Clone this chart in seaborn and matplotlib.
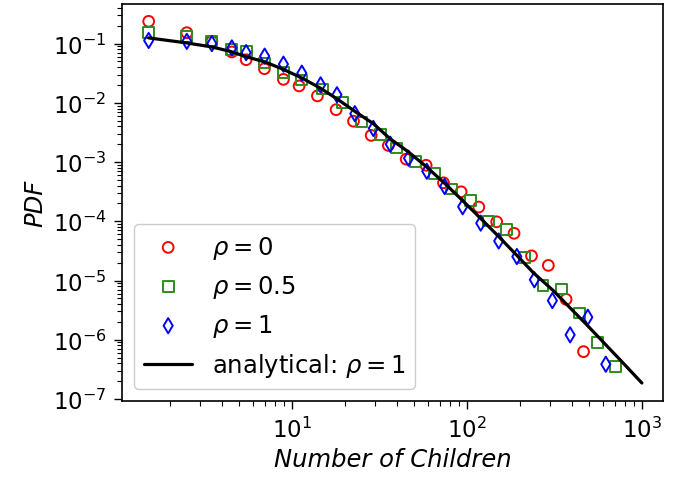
import numpy as np
import matplotlib
matplotlib.use("Agg")
import matplotlib.pyplot as plt
import seaborn as sns

sns.set_style("ticks")
plt.rcParams.update({
    "font.family": ["DejaVu Sans"],
    "font.size": 17.5,
    "axes.edgecolor": "black",
    "axes.linewidth": 1.2,
    "text.color": "black",
    "axes.labelcolor": "black",
    "xtick.color": "black",
    "ytick.color": "black",
    "xtick.labelsize": 16.5,
    "ytick.labelsize": 16.5,
    "xtick.major.size": 6,
    "ytick.major.size": 6,
    "xtick.minor.size": 3.5,
    "ytick.minor.size": 3.5,
    "xtick.major.width": 1,
    "ytick.major.width": 1,
    "xtick.minor.width": 0.8,
    "ytick.minor.width": 0.8,
    "xtick.major.pad": 5,
    "ytick.major.pad": 5,
    "mathtext.fontset": "dejavusans",
})

# rho = 0 (red circles)
x_rho0 = [1.52, 2.51, 3.49, 4.54, 5.48, 6.97, 8.95, 11.0, 14.0, 17.9, 22.5, 28.4,
          35.6, 45.0, 58.5, 73.5, 92.7, 117, 148, 186, 234, 292, 369, 464]
y_rho0 = [0.238, 0.153, 0.109, 0.0723, 0.0535, 0.0377, 0.0249, 0.0193, 0.0131,
          0.00766, 0.0049, 0.00282, 0.00191, 0.00112, 0.000883, 0.000447,
          0.000315, 0.000174, 9.8e-5, 6.27e-5, 2.61e-5, 1.80e-5, 4.81e-6, 6.3e-7]

# rho = 0.5 (green squares)
x_rho05 = [1.52, 2.51, 3.49, 4.54, 5.48, 6.97, 8.95, 11.4, 15.0, 19.5, 25.1, 32.0,
           39.8, 51.0, 65.0, 82.0, 105, 133, 169, 214, 272, 346, 440, 557, 710]
y_rho05 = [0.152, 0.133, 0.111, 0.0791, 0.0752, 0.0471, 0.0327, 0.0242, 0.0171,
           0.0101, 0.00474, 0.0029, 0.00173, 0.00102, 0.000635, 0.00035,
           0.000224, 0.000101, 7.33e-5, 2.48e-5, 8.2e-6, 7.2e-6, 2.84e-6,
           9.1e-7, 3.57e-7]

# rho = 1 (blue diamonds)
x_rho1 = [1.52, 2.51, 3.49, 4.54, 5.48, 6.99, 8.95, 11.4, 14.6, 18.1, 22.9, 29.2,
          36.5, 46.4, 59.0, 74.6, 94.6, 120, 152, 193, 243, 308, 389, 491, 622]
y_rho1 = [0.113, 0.109, 0.100, 0.0846, 0.0705, 0.0614, 0.045, 0.0317, 0.0201,
          0.0137, 0.00656, 0.0037, 0.002, 0.00116, 0.0007, 0.000387, 0.000176,
          9.31e-5, 4.65e-5, 2.54e-5, 1.03e-5, 4.58e-6, 1.21e-6, 2.4e-6, 3.86e-7]

# analytical curve, rho = 1
x_line = [1.52, 2.51, 3.49, 4.44, 5.53, 7.03, 8.95, 11.4, 14.5, 18.1, 23.2, 29.2,
          36.4, 46.4, 59.0, 76.9, 100, 124.5, 155, 193, 240, 313, 389, 485, 752,
          1000]
y_line = [0.125, 0.1026, 0.0879, 0.0741, 0.0596, 0.049, 0.0367, 0.0263, 0.0178,
          0.0117, 0.0070, 0.00445, 0.00248, 0.00148, 0.000824, 0.000403, 0.00019,
          0.000100, 5.2e-5, 2.66e-5, 1.35e-5, 6.68e-6, 3.45e-6, 1.78e-6, 4.56e-7,
          1.86e-7]

fig, ax = plt.subplots(figsize=(6.74, 4.81), dpi=100)
fig.subplots_adjust(left=0.181, right=0.984, top=0.990, bottom=0.164)
ax.set(xscale="log", yscale="log")

sns.scatterplot(x=x_rho0, y=y_rho0, marker="o", s=60, facecolors="none",
                edgecolor="red", linewidth=1.4, label=r"$\rho = 0$", ax=ax)
sns.scatterplot(x=x_rho05, y=y_rho05, marker="s", s=60, facecolors="none",
                edgecolor="#2e8b1e", linewidth=1.4, label=r"$\rho = 0.5$", ax=ax)
sns.scatterplot(x=x_rho1, y=y_rho1, marker="d", s=60, facecolors="none",
                edgecolor="blue", linewidth=1.4, label=r"$\rho = 1$", ax=ax)
sns.lineplot(x=x_line, y=y_line, color="black", linewidth=2.3,
             label=r"analytical: $\rho = 1$", ax=ax)

ax.set_xlim(1.07, 1324)
ax.set_ylim(9.2e-8, 0.47)
ax.set_xlabel("Number of Children", style="italic")
ax.set_ylabel("PDF", style="italic")

handles, labels = ax.get_legend_handles_labels()
order = [labels.index(l) for l in [r"$\rho = 0$", r"$\rho = 0.5$", r"$\rho = 1$",
                                   r"analytical: $\rho = 1$"]]
ax.legend([handles[i] for i in order], [labels[i] for i in order],
          loc="lower left", fontsize=17.5, frameon=True, fancybox=True,
          edgecolor="#cccccc", framealpha=1)

fig.savefig("out.png", dpi=100)
